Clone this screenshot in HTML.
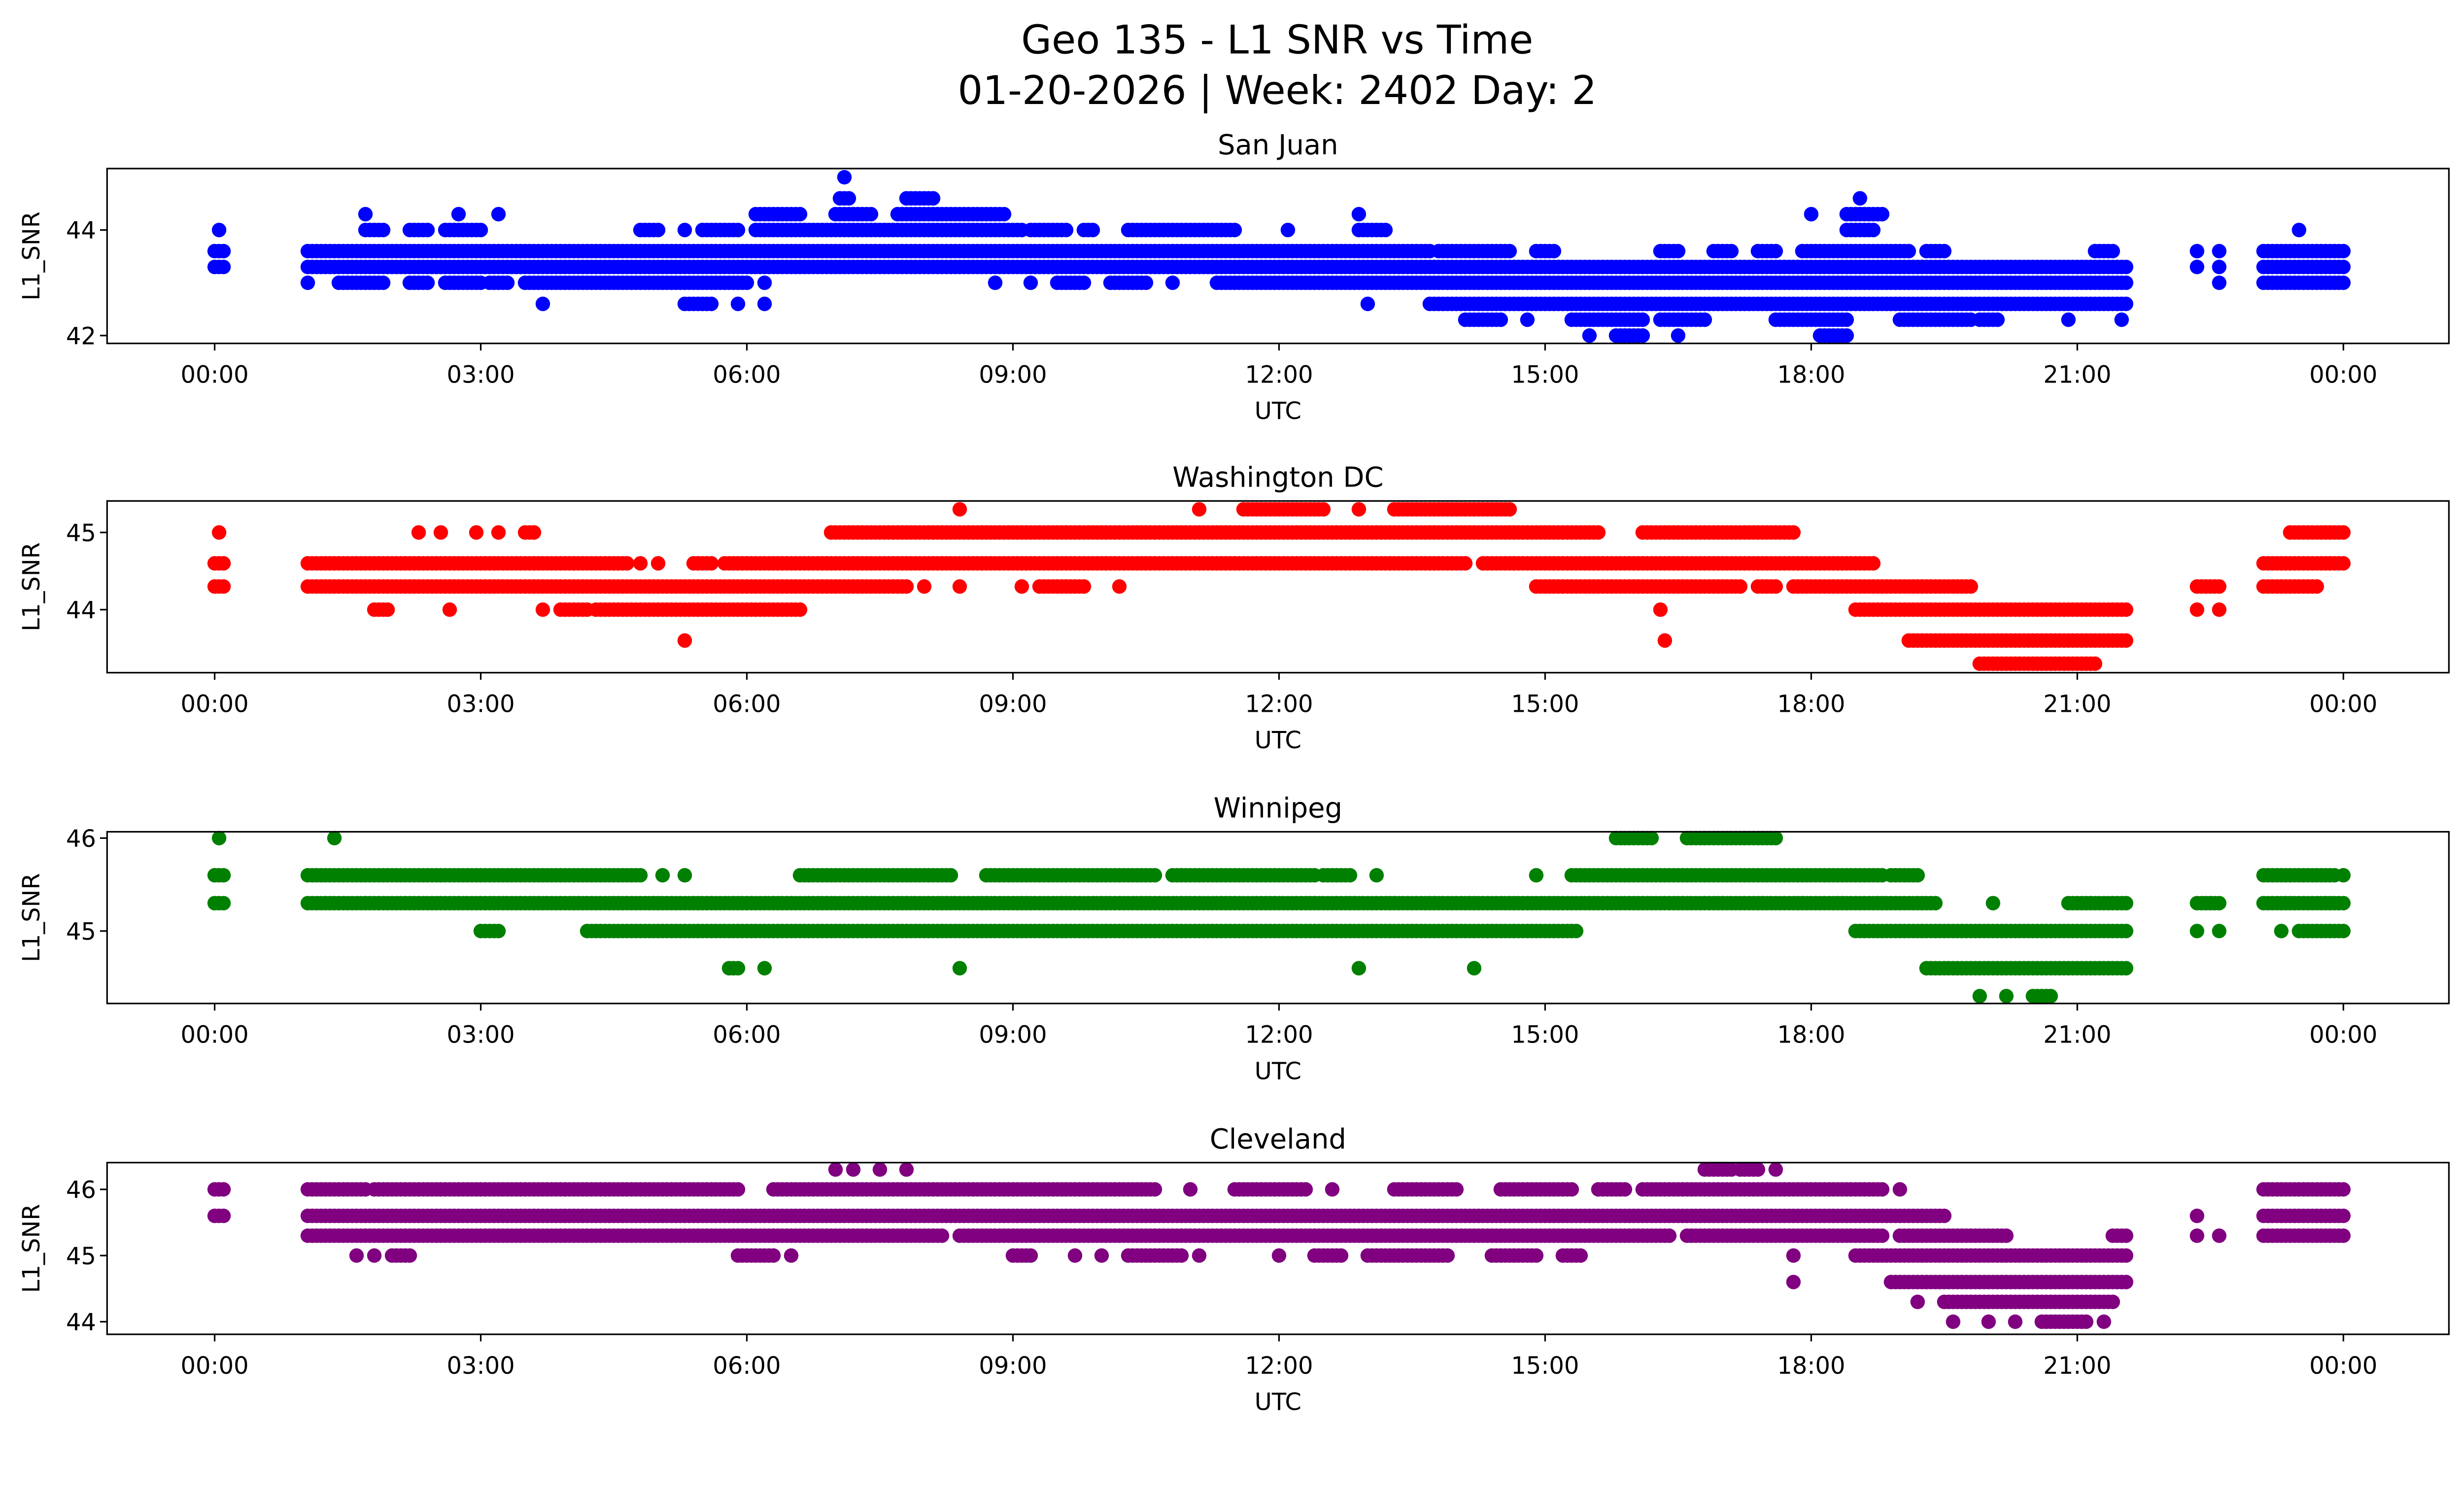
<!DOCTYPE html>
<html><head><meta charset="utf-8"><style>
html,body{margin:0;padding:0;background:#fff;overflow:hidden}
svg{display:block}
text{font-family:"DejaVu Sans","Liberation Sans",sans-serif;fill:#000}
</style></head><body>
<svg id="fig" width="5225" height="3033" viewBox="0 0 1635 949" preserveAspectRatio="none" xmlns="http://www.w3.org/2000/svg">
<rect width="1635" height="949" fill="#fff"/>
<text x="811" y="34" font-size="25" text-anchor="middle">Geo 135 - L1 SNR vs Time</text>
<text x="811" y="66" font-size="25" text-anchor="middle">01-20-2026 | Week: 2402 Day: 2</text>
</svg>
<script>
// Panel data: each level has a list of [startHour, endHour] runs of observations
const stations = ["San Juan","Washington DC","Winnipeg","Cleveland"];
const colors = ["#0000ff","#ff0000","#008000","#800080"];
const xTickLabels = ["00:00","03:00","06:00","09:00","12:00","15:00","18:00","21:00","00:00"];
const xTickHours = [0,3,6,9,12,15,18,21,24];
const yTicks0 = [42,44];
const yTicks1 = [44,45];
const yTicks2 = [45,46];
const yTicks3 = [44,45,46];
const levels0 = [45.0,44.6,44.3,44.0,43.6,43.3,43.0,42.6,42.3,42.0];
const runs0 = [
 [[7.1,7.1]],
 [[7.05,7.15],[7.8,8.1],[18.55,18.55]],
 [[1.7,1.7],[2.75,2.75],[3.2,3.2],[6.1,6.6],[7.0,7.4],[7.7,8.9],[12.9,12.9],[18.0,18.0],[18.4,18.8]],
 [[0.05,0.05],[1.7,1.9],[2.2,2.4],[2.6,3.0],[4.8,5.0],[5.3,5.3],[5.5,5.9],[6.1,9.1],[9.2,9.6],[9.8,9.9],[10.3,11.5],[12.1,12.1],[12.9,13.2],[18.4,18.7],[23.5,23.5]],
 [[0,0.1],[1.05,13.7],[13.8,14.6],[14.9,15.1],[16.3,16.5],[16.9,17.1],[17.4,17.6],[17.9,19.1],[19.3,19.5],[21.2,21.4],[22.35,22.35],[22.6,22.6],[23.1,24]],
 [[0,0.1],[1.05,21.55],[22.35,22.35],[22.6,22.6],[23.1,24]],
 [[1.05,1.05],[1.4,1.9],[2.2,2.4],[2.6,3.0],[3.1,3.3],[3.5,6.0],[6.2,6.2],[8.8,8.8],[9.2,9.2],[9.5,9.8],[10.1,10.5],[10.8,10.8],[11.3,21.55],[22.6,22.6],[23.1,24]],
 [[3.7,3.7],[5.3,5.6],[5.9,5.9],[6.2,6.2],[13.0,13.0],[13.7,21.55]],
 [[14.1,14.5],[14.8,14.8],[15.3,16.1],[16.3,16.8],[17.6,18.4],[19.0,19.8],[19.9,20.1],[20.9,20.9],[21.5,21.5]],
 [[15.5,15.5],[15.8,16.1],[16.5,16.5],[18.1,18.4]]
];
const levels1 = [45.3,45.0,44.6,44.3,44.0,43.6,43.3];
const runs1 = [
 [[8.4,8.4],[11.1,11.1],[11.6,12.5],[12.9,12.9],[13.3,14.6]],
 [[0.05,0.05],[2.3,2.3],[2.55,2.55],[2.95,2.95],[3.2,3.2],[3.5,3.6],[6.95,15.6],[16.1,17.8],[23.4,24]],
 [[0,0.1],[1.05,4.65],[4.8,4.8],[5.0,5.0],[5.4,5.6],[5.75,14.1],[14.3,18.7],[23.1,24]],
 [[0,0.1],[1.05,7.8],[8.0,8.0],[8.4,8.4],[9.1,9.1],[9.3,9.8],[10.2,10.2],[14.9,17.2],[17.4,17.6],[17.8,19.8],[22.35,22.6],[23.1,23.7]],
 [[1.8,1.95],[2.65,2.65],[3.7,3.7],[3.9,4.2],[4.3,6.6],[16.3,16.3],[18.5,21.55],[22.35,22.35],[22.6,22.6]],
 [[5.3,5.3],[16.35,16.35],[19.1,21.55]],
 [[19.9,21.2]]
];
const levels2 = [46.0,45.6,45.3,45.0,44.6,44.3];
const runs2 = [
 [[0.05,0.05],[1.35,1.35],[15.8,16.2],[16.6,17.6]],
 [[0,0.1],[1.05,4.8],[5.05,5.05],[5.3,5.3],[6.6,8.3],[8.7,10.6],[10.8,12.4],[12.5,12.8],[13.1,13.1],[14.9,14.9],[15.3,18.8],[18.9,19.2],[23.1,23.9],[24,24]],
 [[0,0.1],[1.05,19.4],[20.05,20.05],[20.9,21.55],[22.35,22.6],[23.1,24]],
 [[3.0,3.2],[4.2,15.35],[18.5,21.55],[22.35,22.35],[22.6,22.6],[23.3,23.3],[23.5,24]],
 [[5.8,5.9],[6.2,6.2],[8.4,8.4],[12.9,12.9],[14.2,14.2],[19.3,21.55]],
 [[19.9,19.9],[20.2,20.2],[20.5,20.7]]
];
const levels3 = [46.3,46.0,45.6,45.3,45.0,44.6,44.3,44.0];
const runs3 = [
 [[7.0,7.0],[7.2,7.2],[7.5,7.5],[7.8,7.8],[16.8,17.1],[17.2,17.4],[17.6,17.6]],
 [[0,0.1],[1.05,1.7],[1.8,5.9],[6.3,10.6],[11.0,11.0],[11.5,12.3],[12.6,12.6],[13.3,14.0],[14.5,15.3],[15.6,15.9],[16.1,18.8],[19.0,19.0],[23.1,24]],
 [[0,0.1],[1.05,19.5],[22.35,22.35],[23.1,24]],
 [[1.05,8.2],[8.4,16.4],[16.6,18.8],[19.0,20.2],[21.4,21.55],[22.35,22.35],[22.6,22.6],[23.1,24]],
 [[1.6,1.6],[1.8,1.8],[2.0,2.2],[5.9,6.3],[6.5,6.5],[9.0,9.2],[9.7,9.7],[10.0,10.0],[10.3,10.9],[11.1,11.1],[12.0,12.0],[12.4,12.7],[13.0,13.9],[14.4,14.9],[15.2,15.4],[17.8,17.8],[18.5,21.55]],
 [[17.8,17.8],[18.9,21.55]],
 [[19.2,19.2],[19.5,21.4]],
 [[19.6,19.6],[20.0,20.0],[20.3,20.3],[20.6,21.1],[21.3,21.3]]
];
const allLevels=[levels0,levels1,levels2,levels3];
const allRuns=[runs0,runs1,runs2,runs3];
const allYTicks=[yTicks0,yTicks1,yTicks2,yTicks3];

const NS="http://www.w3.org/2000/svg";
const svg=document.getElementById('fig');
const L=68,R=1555;
const panels=[{top:107,bot:218,ref:44,refY:146,ppu:33.5},{top:318,bot:427,ref:45,refY:338,ppu:49},{top:528,bot:637,ref:46,refY:532,ppu:59},{top:738,bot:847,ref:46,refY:755,ppu:42}];
function xScale(h){return 136.3+h*(1488-136.3)/24;}
function mk(tag,attrs){const e=document.createElementNS(NS,tag);for(const k in attrs)e.setAttribute(k,attrs[k]);svg.appendChild(e);return e;}
panels.forEach((p,i)=>{
  const yScale=v=>p.refY+(p.ref-v)*p.ppu;
  const g=document.createElementNS(NS,'g');svg.appendChild(g);
  
  
  allLevels[i].forEach((lv,j)=>{
    allRuns[i][j].forEach(([a,b])=>{
      for(let h=a;h<=b+1e-9;h+=0.05){
        const c=document.createElementNS(NS,'circle');
        c.setAttribute('cx',xScale(h));c.setAttribute('cy',yScale(lv));c.setAttribute('r',4.6);c.setAttribute('fill',colors[i]);
        
        
        g.appendChild(c);
      }
    });
  });
  const fr=mk('rect',{x:L,y:p.top,width:R-L,height:p.bot-p.top,fill:'none',stroke:'#000','stroke-width':1});
  
  
  const t=mk('text',{x:(L+R)/2,y:p.top-9,'font-size':17.5,'text-anchor':'middle'});t.textContent=stations[i];
  
  
  xTickHours.forEach((h,k)=>{
    const x=xScale(h);
    mk('line',{x1:x,x2:x,y1:p.bot,y2:p.bot+4.5,stroke:'#000','stroke-width':1});
    const tl=mk('text',{x:x,y:p.bot+25,'font-size':15,'text-anchor':'middle'});tl.textContent=xTickLabels[k];
    
    
  });
  allYTicks[i].forEach(v=>{
    const y=yScale(v);
    mk('line',{x1:L-4.5,x2:L,y1:y,y2:y,stroke:'#000','stroke-width':1});
    const yl=mk('text',{x:L-7,y:y+5.5,'font-size':15,'text-anchor':'end'});yl.textContent=v;
    
    
  });
  const xt=mk('text',{x:(L+R)/2,y:p.bot+48,'font-size':15,'text-anchor':'middle'});xt.textContent='UTC';
  
  
  const cy=(p.top+p.bot)/2;
  const yt=mk('text',{x:25,y:cy,'font-size':15,'text-anchor':'middle',transform:'rotate(-90 25 '+cy+')'});yt.textContent='L1_SNR';
  
  
});
</script>
</body></html>
